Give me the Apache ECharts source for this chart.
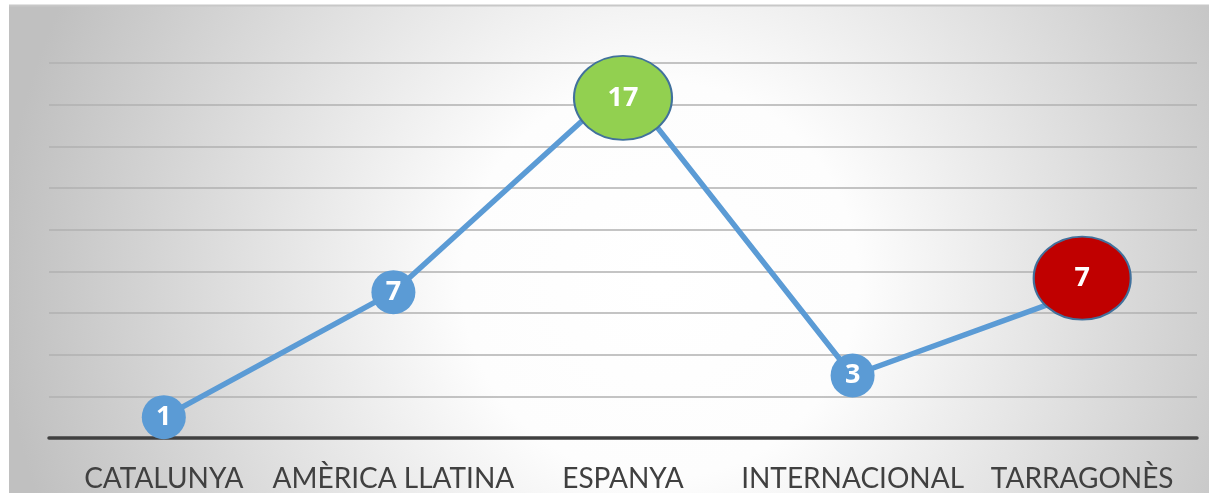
<!DOCTYPE html>
<html>
<head>
<meta charset="utf-8">
<script src="https://cdn.jsdelivr.net/npm/echarts@6/dist/echarts.min.js"></script>
<style>
html,body{margin:0;padding:0;background:#fff;}
#chart{width:1209px;height:493px;}
</style>
</head>
<body>
<div id="chart"></div>
<script>
const categories = ['CATALUNYA', 'AMÈRICA LLATINA', 'ESPANYA', 'INTERNACIONAL', 'TARRAGONÈS'];
const values = [1, 7, 17, 3, 7];
const labels = ['1', '7', '17', '3', '7'];
const yMin = 0, yMax = 18, yInterval = 2;

const chart = echarts.init(document.getElementById('chart'));

const blue = '#5b9bd5';
const special = {
  2: { color: '#92d050', size: [98, 84], offset: [0, 14] },
  4: { color: '#c00000', size: [97, 83], offset: [0, -14] }
};

const seriesData = values.map((v, i) => {
  const s = special[i];
  const item = { value: v, label: { formatter: labels[i] } };
  if (s) {
    item.symbolSize = s.size;
    item.symbolOffset = s.offset;
    item.itemStyle = { color: s.color, borderColor: '#41719c', borderWidth: 2 };
  }
  return item;
});

chart.setOption({
  animation: false,
  backgroundColor: '#ffffff',
  graphic: [
    {
      type: 'rect', z: -10, silent: true,
      shape: { x: 9, y: 5, width: 1200, height: 488 },
      style: {
        fill: {
          type: 'radial', global: true, x: 660, y: 280, r: 660,
          colorStops: [
            { offset: 0, color: '#ffffff' },
            { offset: 0.3, color: '#fdfdfd' },
            { offset: 1, color: '#c0c0c0' }
          ]
        }
      }
    },
    {
      type: 'line', z: -9, silent: true,
      shape: { x1: 9, y1: 5.5, x2: 1209, y2: 5.5 },
      style: { stroke: '#c8c8c8', lineWidth: 2 }
    }
  ],
  grid: { left: 49, right: 12, top: 63, bottom: 55 },
  xAxis: {
    type: 'category',
    data: categories,
    boundaryGap: true,
    axisTick: { show: false },
    axisLine: { lineStyle: { color: '#404040', width: 3.5 } },
    axisLabel: {
      color: '#404040',
      fontFamily: 'Lato',
      fontSize: 28,
      margin: 27,
      interval: 0
    },
    splitLine: { show: false }
  },
  yAxis: {
    type: 'value',
    min: yMin, max: yMax, interval: yInterval,
    axisLabel: { show: false },
    axisLine: { show: false },
    axisTick: { show: false },
    splitLine: { lineStyle: { color: '#b0b0b0', width: 1.5 } }
  },
  series: [{
    type: 'line',
    data: seriesData,
    symbol: 'circle',
    symbolSize: 44,
    lineStyle: { color: blue, width: 5.5 },
    itemStyle: { color: blue },
    label: {
      show: true,
      position: 'inside',
      color: '#ffffff',
      fontFamily: 'Open Sans',
      fontWeight: 'bold',
      fontSize: 27
    },
    emphasis: { disabled: true }
  }]
});
</script>
</body>
</html>
